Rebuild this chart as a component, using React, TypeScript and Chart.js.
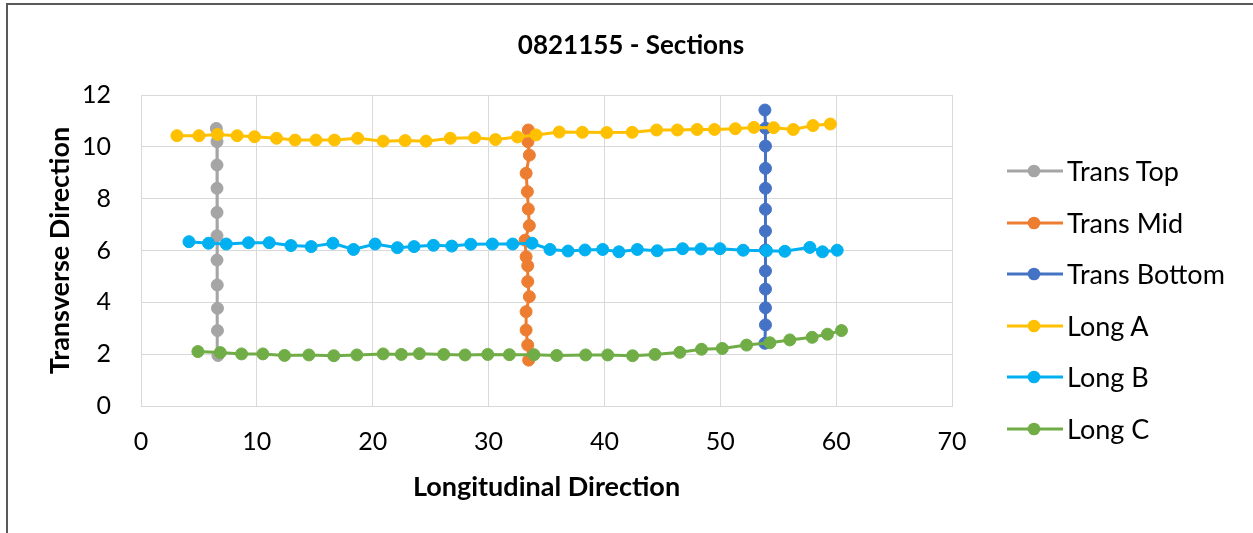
import React, { useEffect, useRef } from "react";
import { Chart, registerables } from "chart.js";

Chart.register(...registerables);

// ---- Data ----
const seriesNames = ["Trans Top", "Trans Mid", "Trans Bottom", "Long A", "Long B", "Long C"];
const seriesColors = ["#A5A5A5", "#ED7D31", "#4472C4", "#FFC000", "#00B0F0", "#70AD47"];

const transTopX = [6.5, 6.56, 6.56, 6.56, 6.56, 6.56, 6.56, 6.58, 6.6, 6.6, 6.64];
const transTopY = [10.71, 10.2, 9.3, 8.4, 7.47, 6.57, 5.63, 4.67, 3.77, 2.91, 1.95];

const transMidX = [33.43, 33.4, 33.52, 33.24, 33.35, 33.43, 33.52, 33.15, 33.24, 33.38, 33.38, 33.52, 33.24, 33.24, 33.38, 33.46];
const transMidY = [10.65, 10.2, 9.68, 8.98, 8.27, 7.6, 6.96, 6.4, 5.76, 5.41, 4.8, 4.22, 3.64, 2.93, 2.35, 1.77];

const transBottomX = [53.85, 53.9, 53.9, 53.9, 53.9, 53.9, 53.9, 53.9, 53.9, 53.9, 53.9, 53.9, 53.85];
const transBottomY = [11.42, 10.72, 10.03, 9.17, 8.4, 7.59, 6.75, 6.02, 5.21, 4.51, 3.79, 3.13, 2.42];

const longAX = [3.1, 5.0, 6.6, 8.3, 9.8, 11.7, 13.3, 15.1, 16.7, 18.7, 20.9, 22.8, 24.6, 26.7, 28.8, 30.6, 32.5, 34.1, 36.1, 38.1, 40.2, 42.4, 44.5, 46.3, 48.0, 49.5, 51.3, 52.9, 54.6, 56.3, 58.0, 59.5];
const longAY = [10.43, 10.43, 10.48, 10.43, 10.39, 10.33, 10.26, 10.26, 10.26, 10.33, 10.22, 10.24, 10.22, 10.33, 10.35, 10.28, 10.38, 10.46, 10.57, 10.56, 10.55, 10.56, 10.65, 10.65, 10.67, 10.67, 10.7, 10.75, 10.74, 10.67, 10.82, 10.88];

const longBX = [4.14, 5.83, 7.36, 9.28, 11.07, 12.94, 14.69, 16.56, 18.34, 20.21, 22.13, 23.57, 25.24, 26.82, 28.46, 30.33, 32.08, 33.75, 35.3, 36.86, 38.32, 39.85, 41.25, 42.84, 44.56, 46.75, 48.33, 49.97, 51.98, 53.99, 55.57, 57.73, 58.82, 60.09];
const longBY = [6.34, 6.28, 6.25, 6.3, 6.3, 6.19, 6.15, 6.28, 6.04, 6.25, 6.11, 6.15, 6.2, 6.17, 6.24, 6.25, 6.25, 6.28, 6.04, 5.98, 6.02, 6.04, 5.95, 6.04, 5.99, 6.07, 6.06, 6.07, 6.01, 5.99, 5.97, 6.12, 5.95, 6.01];

const longCX = [4.91, 6.84, 8.68, 10.52, 12.39, 14.49, 16.64, 18.63, 20.9, 22.47, 24.03, 26.13, 27.97, 29.93, 31.8, 33.92, 35.88, 38.38, 40.28, 42.43, 44.36, 46.51, 48.38, 50.17, 52.27, 54.28, 56.0, 57.93, 59.25, 60.46];
const longCY = [2.1, 2.06, 2.01, 2.01, 1.95, 1.97, 1.94, 1.97, 2.01, 1.99, 2.02, 1.99, 1.97, 1.99, 1.98, 1.98, 1.95, 1.97, 1.97, 1.94, 1.99, 2.07, 2.19, 2.22, 2.35, 2.44, 2.55, 2.65, 2.77, 2.91];

const xTicks = [0, 10, 20, 30, 40, 50, 60, 70];
const yTicks = [0, 2, 4, 6, 8, 10, 12];

const chartTitle = "0821155 - Sections";
const xTitle = "Longitudinal Direction";
const yTitle = "Transverse Direction";

const seriesX = [transTopX, transMidX, transBottomX, longAX, longBX, longCX];
const seriesY = [transTopY, transMidY, transBottomY, longAY, longBY, longCY];

const FONT = "Lato, 'Open Sans', sans-serif";
const GRID = "#D9D9D9";

export default function App() {
  const canvasRef = useRef<HTMLCanvasElement | null>(null);

  useEffect(() => {
    const canvas = canvasRef.current;
    if (!canvas) return;
    const datasets = seriesNames.map((name, i) => ({
      label: name,
      data: seriesX[i].map((x, j) => ({ x, y: seriesY[i][j] })),
      borderColor: seriesColors[i],
      backgroundColor: seriesColors[i],
      pointBackgroundColor: seriesColors[i],
      pointBorderColor: seriesColors[i],
      pointBorderWidth: 1,
      pointRadius: 6,
      borderWidth: 3,
      showLine: true,
      tension: 0,
      order: seriesNames.length - i,
    }));

    const chart = new Chart(canvas, {
      type: "scatter",
      data: { datasets },
      options: {
        animation: false,
        responsive: false,
        devicePixelRatio: 1,
        layout: { padding: { left: 0, right: 301, top: 95, bottom: 0 } },
        plugins: {
          legend: { display: false },
          tooltip: { enabled: false },
          title: { display: false },
        },
        scales: {
          x: {
            type: "linear",
            min: 0,
            max: 70,
            afterBuildTicks: (scale: any) => {
              scale.ticks = xTicks.map((v) => ({ value: v }));
            },
            afterFit: (scale: any) => {
              scale.height = 127;
            },
            ticks: {
              color: "#000",
              padding: 21,
              font: { family: FONT, size: 25, lineHeight: 1.2 },
              maxRotation: 0,
            },
            grid: { color: GRID, lineWidth: 1, drawTicks: false },
            border: { color: GRID, width: 1 },
            title: {
              display: true,
              text: xTitle,
              color: "#000",
              font: { family: FONT, size: 27, weight: "bold", lineHeight: 1.2 },
              padding: { top: 0, bottom: 30 },
            },
          },
          y: {
            type: "linear",
            min: 0,
            max: 12,
            afterBuildTicks: (scale: any) => {
              scale.ticks = yTicks.map((v) => ({ value: v }));
            },
            afterFit: (scale: any) => {
              scale.width = 141;
            },
            ticks: {
              color: "#000",
              padding: 30,
              font: { family: FONT, size: 25, lineHeight: 1.2 },
            },
            grid: { color: GRID, lineWidth: 1, drawTicks: false },
            border: { color: GRID, width: 1 },
            title: {
              display: true,
              text: yTitle,
              color: "#000",
              font: { family: FONT, size: 27, weight: "bold", lineHeight: 1.2 },
              padding: { top: 44, bottom: 0 },
            },
          },
        },
      },
    } as any);

    return () => chart.destroy();
  }, []);

  const legendTop = 171;
  const legendStep = 51.6;

  return (
    <div
      style={{
        position: "absolute",
        left: 0,
        top: 0,
        width: 1253,
        height: 533,
        overflow: "hidden",
        background: "#fff",
      }}
    >
      <div
        style={{
          position: "absolute",
          left: 6,
          top: 3,
          width: 1400,
          height: 700,
          borderLeft: "2px solid #595959",
          borderTop: "2px solid #595959",
          boxSizing: "border-box",
        }}
      />
      <canvas
        ref={canvasRef}
        width={1253}
        height={533}
        style={{ position: "absolute", left: 0, top: 0, width: 1253, height: 533 }}
      />
      <div
        style={{
          position: "absolute",
          left: 0,
          width: 1262,
          top: 28,
          height: 32,
          lineHeight: "32px",
          textAlign: "center",
          fontFamily: FONT,
          fontWeight: "bold",
          fontSize: 26,
          color: "#000",
          whiteSpace: "nowrap",
        }}
      >
        {chartTitle}
      </div>
      {seriesNames.map((name, i) => {
        const cy = legendTop + i * legendStep;
        return (
          <div
            key={name}
            style={{
              position: "absolute",
              left: 1007,
              top: cy - 16,
              height: 32,
              display: "flex",
              alignItems: "center",
              whiteSpace: "nowrap",
            }}
          >
            <svg width={56} height={14} style={{ display: "block" }}>
              <line x1={0} y1={7} x2={56} y2={7} stroke={seriesColors[i]} strokeWidth={3} />
              <circle cx={27} cy={7} r={6.3} fill={seriesColors[i]} />
            </svg>
            <span
              style={{
                marginLeft: 4,
                fontFamily: FONT,
                fontSize: 27,
                lineHeight: "32px",
                color: "#000",
              }}
            >
              {name}
            </span>
          </div>
        );
      })}
    </div>
  );
}
